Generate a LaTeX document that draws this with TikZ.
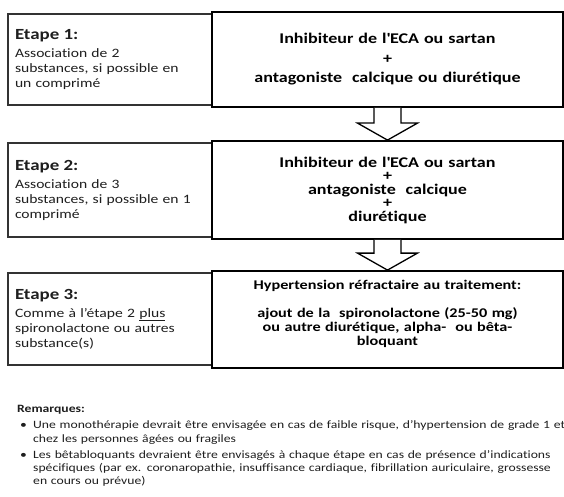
\documentclass[tikz,border=0pt]{standalone}
\usepackage{fontspec}
\setmainfont{Carlito}[FakeStretch=1.22, Ligatures={NoCommon}]
\usetikzlibrary{calc, positioning}
\definecolor{boxGrey}{HTML}{333333}
\definecolor{textDark}{HTML}{1E1E1E}

% hollow block arrow between two stacked boxes
\newcommand{\stagearrow}[2]{%
  \draw[bigarrow] let \p1=(#1.south), \p2=(#2.north) in
    (\x1-13.5pt,\y1) -- (\x1-13.5pt,\y2+17pt) -- (\x1-30pt,\y2+17pt)
    -- (\x1,\y2) -- (\x1+30pt,\y2+17pt) -- (\x1+13.5pt,\y2+17pt)
    -- (\x1+13.5pt,\y1);}
\newcommand{\bul}{\hangindent=16pt\hangafter=1\noindent
  \makebox[16pt][l]{\hspace{3pt}\textbullet}}
\newcommand{\stagetitle}[1]{{\bfseries\fontsize{15.5}{18}\selectfont #1}\\[3pt]}

\begin{document}
\begin{tikzpicture}[x=1pt, y=-1pt,
    stage/.style={rectangle, draw=boxGrey, line width=1.4pt, fill=white,
                  minimum width=204pt, inner sep=0pt, text width=190pt,
                  align=left, font=\fontsize{12.8}{15}\selectfont\color{textDark}},
    drug/.style={rectangle, draw=black, line width=1.8pt, fill=white,
                 minimum width=351pt, inner sep=0pt, text width=345pt,
                 align=center, font=\bfseries\fontsize{14.8}{19.5}\selectfont},
    bigarrow/.style={draw=black, line width=1.3pt, fill=white},
    remarks/.style={inner sep=0pt, text width=700pt, align=left,
                    font=\fontsize{11.2}{13.4}\selectfont\color{textDark}},
  ]
  \useasboundingbox (0,0) rectangle (564,497);

  % stages (left)
  \node[stage, minimum height=91pt] (s1) at (110,59.5)
    {\stagetitle{Etape 1:}
     Association de 2\\substances, si possible en\\un comprimé};
  \node[stage, minimum height=94pt] (s2) at (110,190)
    {\stagetitle{Etape 2:}
     Association de 3\\substances, si possible en 1\\comprimé};
  \node[stage, minimum height=92pt] (s3) at (110,319)
    {\stagetitle{Etape 3:}
     Comme à l’étape 2 \underline{plus}\\spironolactone ou autres\\substance(s)};

  % treatments (right)
  \node[drug, minimum height=95pt] (d1) at (387.5,59.5)
    {Inhibiteur de l\textquotesingle ECA ou sartan\\+\\antagoniste\ \ calcique ou diurétique};
  \node[drug, minimum height=98pt,
        font=\bfseries\fontsize{14.8}{13.5}\selectfont] (d2) at (387.5,190)
    {Inhibiteur de l\textquotesingle ECA ou sartan\\+\\antagoniste\ \ calcique\\+\\diurétique};
  \node[drug, minimum height=97pt,
        font=\bfseries\fontsize{13.3}{14}\selectfont] (d3) at (387.5,319.5)
    {Hypertension réfractaire au traitement:\\[14pt]
     ajout de la\ \ spironolactone (25-50 mg)\\
     ou autre diurétique, alpha-\ \ ou bêta-\\bloquant\\ \mbox{}};

  \stagearrow{d1}{d2}
  \stagearrow{d2}{d3}

  % notes
  \node[remarks, anchor=north west] (rem) at (17,405)
    {\textbf{Remarques:}\par
     \vspace{3pt}
     \bul Une monothérapie devrait être envisagée en cas de faible risque,
       d’hypertension de grade 1 et\newline chez les personnes âgées ou fragiles\par
     \vspace{2.5pt}
     \bul Les bêtabloquants devraient être envisagés à chaque étape en cas de
       présence d’indications\newline spécifiques (par ex. coronaropathie,
       insuffisance cardiaque, fibrillation auriculaire, grossesse\newline en cours
       ou prévue)\par};
\end{tikzpicture}
\end{document}
